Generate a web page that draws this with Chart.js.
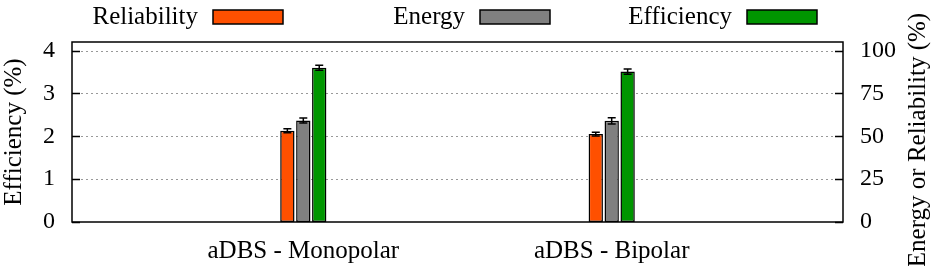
<!DOCTYPE html>
<html>
<head>
<meta charset="utf-8">
<script src="https://cdn.jsdelivr.net/npm/chart.js@4"></script>
<style>
  body { margin: 0; background: #fff; }
  #wrap { width: 935px; height: 266px; position: relative; }
</style>
</head>
<body>
<div id="wrap"><canvas id="effChart"></canvas></div>
<script>
// blank labels act as spacers so the two groups sit at 30% / 70% of the width
var categories = ['', 'aDBS - Monopolar', '', 'aDBS - Bipolar', ''];

var reliability = [null, 53.2, null, 51.3, null];
var reliabilityErr = [null, 1.2, null, 1.1, null];
var energy = [null, 59.2, null, 59.0, null];
var energyErr = [null, 1.5, null, 1.8, null];
var efficiency = [null, 3.60, null, 3.51, null];
var efficiencyErr = [null, 0.06, null, 0.06, null];

var effTicks = [0, 1, 2, 3, 4];
var pctTicks = [0, 25, 50, 75, 100];

const FONT = '"Liberation Serif", "Times New Roman", serif';
const FSIZE = 25;
const TSIZE = 24;

// error bars, drawn from the errors stored on each dataset
const errorBars = {
  id: 'errorBars',
  afterDatasetsDraw(chart) {
    const ctx = chart.ctx;
    ctx.save();
    ctx.strokeStyle = '#000';
    ctx.lineWidth = 1.5;
    chart.data.datasets.forEach((ds, i) => {
      const meta = chart.getDatasetMeta(i);
      const scale = chart.scales[ds.yAxisID];
      meta.data.forEach((bar, j) => {
        const v = ds.data[j];
        if (v == null) return;
        const e = ds.errors[j];
        const yt = scale.getPixelForValue(v + e);
        const yb = scale.getPixelForValue(v - e);
        ctx.beginPath();
        ctx.moveTo(bar.x, yt); ctx.lineTo(bar.x, yb);
        ctx.moveTo(bar.x - 4, yt); ctx.lineTo(bar.x + 4, yt);
        ctx.moveTo(bar.x - 4, yb); ctx.lineTo(bar.x + 4, yb);
        ctx.stroke();
      });
    });
    ctx.restore();
  }
};

// dotted grid, inward tick marks and the frame
const frame = {
  id: 'frame',
  beforeDatasetsDraw(chart) {
    const ctx = chart.ctx;
    const a = chart.chartArea;
    const y = chart.scales.y;
    ctx.save();
    y.ticks.forEach(t => {
      const py = Math.round(y.getPixelForValue(t.value)) + 0.5;
      if (t.value > 0) {
        ctx.strokeStyle = '#999';
        ctx.lineWidth = 1;
        ctx.setLineDash([2, 3]);
        ctx.beginPath();
        ctx.moveTo(a.left + 9, py); ctx.lineTo(a.right - 9, py);
        ctx.stroke();
      }
      ctx.setLineDash([]);
      ctx.strokeStyle = '#000';
      ctx.lineWidth = 1.5;
      ctx.beginPath();
      ctx.moveTo(a.left, py); ctx.lineTo(a.left + 8, py);
      ctx.moveTo(a.right, py); ctx.lineTo(a.right - 8, py);
      ctx.stroke();
    });
    ctx.restore();
  },
  afterDatasetsDraw(chart) {
    const ctx = chart.ctx;
    const a = chart.chartArea;
    ctx.save();
    ctx.strokeStyle = '#000';
    ctx.lineWidth = 1.5;
    ctx.strokeRect(a.left, a.top, a.right - a.left, a.bottom - a.top);
    ctx.restore();
  }
};

// legend with text before swatch, plus the two rotated axis titles
const extras = {
  id: 'extras',
  afterDraw(chart) {
    const ctx = chart.ctx;
    const a = chart.chartArea;
    ctx.save();
    ctx.font = FSIZE + 'px ' + FONT;
    ctx.textBaseline = 'middle';
    chart.data.datasets.forEach((ds, i) => {
      const sx = 213 + i * 267;
      ctx.textAlign = 'right';
      ctx.fillStyle = '#000';
      ctx.fillText(ds.label, sx - 15, 17);
      ctx.fillStyle = ds.backgroundColor;
      ctx.fillRect(sx, 10, 70, 14);
      ctx.strokeStyle = '#000';
      ctx.lineWidth = 1.5;
      ctx.strokeRect(sx, 10, 70, 14);
    });
    ctx.fillStyle = '#000';
    ctx.textAlign = 'center';
    ctx.translate(14, (a.top + a.bottom) / 2);
    ctx.rotate(-Math.PI / 2);
    ctx.fillText('Efficiency (%)', 0, 0);
    ctx.setTransform(1, 0, 0, 1, 0, 0);
    ctx.translate(918, 140);
    ctx.rotate(-Math.PI / 2);
    ctx.fillText('Energy or Reliability (%)', 0, 0);
    ctx.restore();
  }
};

const data_eff = {
  labels: categories,
  datasets: [
    { label: 'Reliability', data: reliability, errors: reliabilityErr, yAxisID: 'y1',
      backgroundColor: 'rgb(255, 80, 0)' },
    { label: 'Energy', data: energy, errors: energyErr, yAxisID: 'y1',
      backgroundColor: 'rgb(128, 128, 128)' },
    { label: 'Efficiency', data: efficiency, errors: efficiencyErr, yAxisID: 'y',
      backgroundColor: 'rgb(0, 150, 0)' }
  ]
};
data_eff.datasets.forEach(ds => {
  ds.borderColor = '#000';
  ds.borderWidth = 1.5;
  ds.borderSkipped = false;
  ds.categoryPercentage = 0.31;
  ds.barPercentage = 0.9;
});

const config_eff = {
  type: 'bar',
  data: data_eff,
  options: {
    responsive: true,
    maintainAspectRatio: false,
    animation: false,
    layout: { padding: { top: 42, left: 0, right: 0, bottom: 0 } },
    plugins: { legend: { display: false }, tooltip: { enabled: false } },
    scales: {
      x: {
        grid: { display: false, drawTicks: false },
        border: { display: false },
        ticks: { autoSkip: false, maxRotation: 0, padding: 14, color: '#000',
                 font: { family: FONT, size: FSIZE } },
        afterFit: s => { s.height = 44; }
      },
      y: {
        position: 'left', min: 0, max: 4.2,
        grid: { display: false, drawTicks: false },
        border: { display: false },
        afterBuildTicks: s => { s.ticks = effTicks.map(v => ({ value: v })); },
        ticks: { padding: 17, color: '#000', font: { family: FONT, size: TSIZE } },
        afterFit: s => { s.width = 72; }
      },
      y1: {
        position: 'right', min: 0, max: 105,
        grid: { display: false, drawTicks: false },
        border: { display: false },
        afterBuildTicks: s => { s.ticks = pctTicks.map(v => ({ value: v })); },
        ticks: { padding: 17, color: '#000', font: { family: FONT, size: TSIZE } },
        afterFit: s => { s.width = 92; }
      }
    }
  },
  plugins: [frame, errorBars, extras]
};

const myChartEff = new Chart(document.getElementById('effChart'), config_eff);
</script>
</body>
</html>
